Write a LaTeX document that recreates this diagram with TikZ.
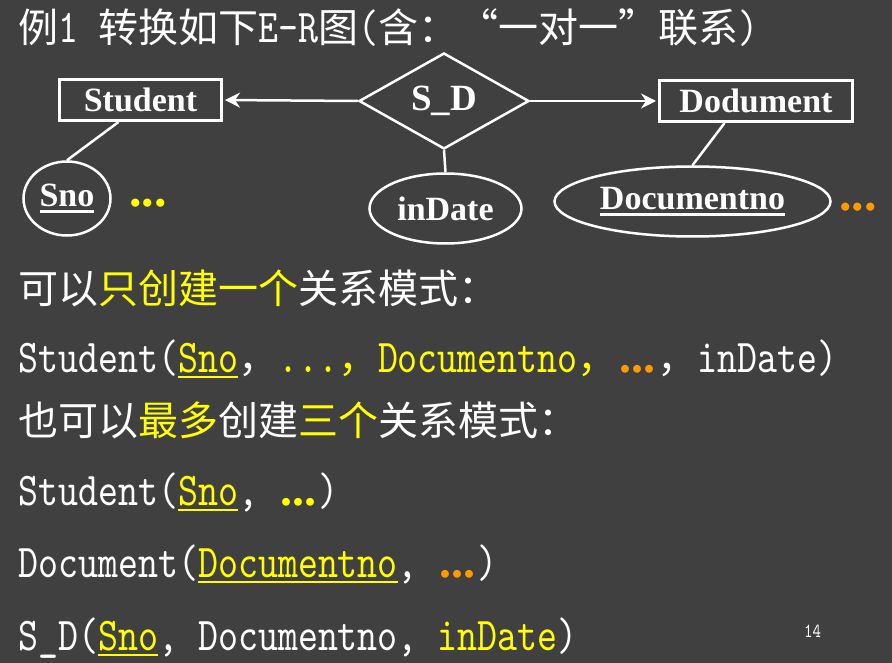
\documentclass[tikz,border=0pt]{standalone}
\usepackage{fontspec}
\setmainfont{Liberation Serif}
\newfontfamily\mono[FakeStretch=0.81]{lmmono10-regular.otf}
\newfontfamily\cjk[Scale=0.851]{Noto Sans CJK SC}
\usetikzlibrary{shapes,arrows.meta,positioning}
\definecolor{slidebg}{RGB}{64,64,64}
\definecolor{hiyellow}{RGB}{255,255,0}
\definecolor{hiorange}{RGB}{255,153,0}
\tikzstyle{entity} = [rectangle, draw=white, line width=3pt, text=white,
    minimum height=41pt, font=\fontsize{34}{34}\selectfont\bfseries]
\tikzstyle{relation} = [diamond, draw=white, line width=2.5pt, text=white, aspect=1.77,
    inner sep=0pt, minimum width=170pt, minimum height=96pt, font=\fontsize{37}{37}\selectfont\bfseries]
\tikzstyle{attrib} = [ellipse, draw=white, line width=2.5pt, text=white,
    inner sep=0pt, font=\fontsize{34}{34}\selectfont\bfseries]
\tikzstyle{link} = [draw=white, line width=2.5pt]
\tikzstyle{tolink} = [link, -{Stealth[length=15pt, width=15pt, inset=5pt]}, shorten >=2pt]
\tikzstyle{textline} = [anchor=base west, inner sep=0pt, text=white,
    font=\fontsize{47}{47}\selectfont\mono]
\tikzstyle{moredots} = [inner sep=0pt, font=\fontsize{50}{50}\selectfont\bfseries]
\newsavebox\ulbox
\newcommand{\uln}[1]{\sbox\ulbox{#1}\rlap{\rule[-6pt]{\wd\ulbox}{2.5pt}}\usebox\ulbox}
\newcommand{\zh}[1]{{\cjk #1}}
\newcommand{\yel}[1]{\textcolor{hiyellow}{#1}}
\newcommand{\org}[1]{\textcolor{hiorange}{#1}}
\newcommand{\tdots}{\makebox[40pt][c]{\rmfamily\bfseries\fontsize{48}{48}\selectfont...}}

\begin{document}
\begin{tikzpicture}[x=1pt, y=-1pt]
	\useasboundingbox (0,0) rectangle (892,663);
	\fill[slidebg] (0,0) rectangle (892,663);

	% E-R diagram
	\node[entity, minimum width=162pt] (student) at (140.5,100) {Student};
	\node[relation] (sd) at (444,101) {S\_D};
	\node[entity, minimum width=193pt] (dodument) at (756,101) {Dodument};
	\node[attrib, minimum width=87pt, minimum height=74pt] (sno) at (67,198.5) {\uln{Sno}};
	\node[attrib, minimum width=152pt, minimum height=70pt] (indate) at (445.5,208.5) {inDate};
	\node[attrib, minimum width=276pt, minimum height=70pt] (docno) at (692.5,201.5) {\uln{Documentno}};
	\node[moredots, text=hiyellow] (snodots) at (148,203) {...};
	\node[moredots, text=hiorange] (docdots) at (858,207) {...};

	\draw[tolink] (sd.west) -- (student.east);
	\draw[tolink] (sd.east) -- (dodument.west);
	\draw[link] (sd.south) -- (indate.north);
	\draw[link] (student.225) -- (sno.north);
	\draw[link] (dodument.215) -- (docno.north);

	% text lines
	\node[textline] (title) at (18,43) {\zh{例}1 \zh{转换如下}E-R\zh{图}(\zh{含：“一对一”联系})};
	\node[textline] (onlyone) at (18,303) {\zh{可以\yel{只创建一个}关系模式：}};
	\node[textline] (onerel) at (18,372) {Student(\yel{\uln{Sno}}\zh{，}\yel{...\zh{，}Documentno\zh{，}}\org{\tdots}\zh{，}inDate)};
	\node[textline] (atmost) at (18,435) {\zh{也可以\yel{最多}创建\yel{三个}关系模式：}};
	\node[textline] (relstu) at (18,505) {Student(\yel{\uln{Sno}}, \yel{\tdots})};
	\node[textline] (reldoc) at (18,577) {Document(\yel{\uln{Documentno}}, \org{\tdots})};
	\node[textline] (relsd) at (18,650) {S\_D(\yel{\uln{Sno}}, Documentno, \yel{inDate})};
	\node[textline, font=\fontsize{20}{20}\selectfont\mono] (pageno) at (804,637) {14};
\end{tikzpicture}
\end{document}
